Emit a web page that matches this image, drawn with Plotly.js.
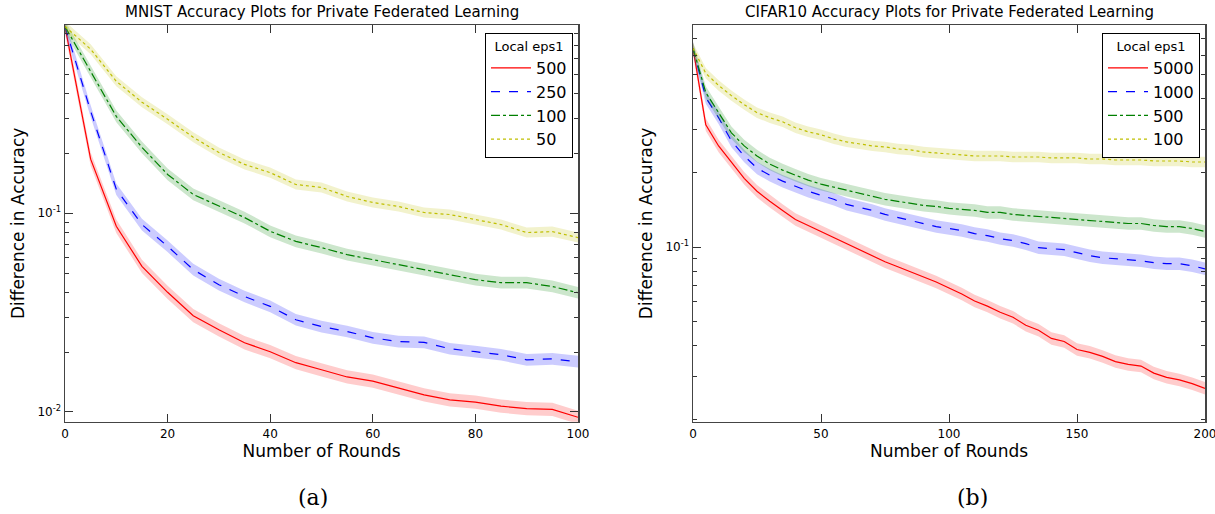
<!DOCTYPE html>
<html>
<head>
<meta charset="utf-8">
<script src="https://cdn.plot.ly/plotly-3.0.1.min.js"></script>
<style>html,body{margin:0;padding:0;background:#fff;}#chart{width:1215px;height:514px;}</style>
</head>
<body>
<div id="chart"></div>
<script>
// ---------- data ----------
const mnistRounds = [0,5,10,15,20,25,30,35,40,45,50,55,60,65,70,75,80,85,90,95,100];
const mnistEps500 = [0.87,0.187,0.086,0.054,0.040,0.0305,0.0259,0.0223,0.0201,0.0177,0.0163,0.0150,0.0143,0.0132,0.0122,0.0115,0.0112,0.0107,0.0104,0.0103,0.0094];
const mnistEps250 = [0.87,0.326,0.132,0.0877,0.0682,0.052,0.0437,0.0381,0.034,0.0291,0.0269,0.0254,0.0236,0.0226,0.0224,0.0208,0.0201,0.0194,0.0183,0.0185,0.0179];
const mnistEps100 = [0.87,0.518,0.307,0.2145,0.1567,0.1243,0.1085,0.0951,0.0811,0.0722,0.0671,0.0619,0.0584,0.0551,0.052,0.0491,0.0463,0.0447,0.0447,0.0428,0.0398];
const mnistEps50  = [0.87,0.669,0.461,0.362,0.297,0.241,0.202,0.176,0.160,0.1395,0.1348,0.1214,0.1132,0.1081,0.1008,0.0985,0.0929,0.0877,0.0799,0.0808,0.0754];

const cifarRounds = [0,5,10,15,20,25,30,35,40,45,50,55,60,65,70,75,80,85,90,95,100,105,110,115,120,125,130,135,140,145,150,155,160,165,170,175,180,185,190,195,200];
const cifarEps5000 = [0.64,0.313,0.257,0.221,0.190,0.1685,0.1534,0.1409,0.1295,0.1224,0.1157,0.1093,0.1033,0.0977,0.0923,0.0873,0.0833,0.0794,0.0758,0.0723,0.0683,0.0646,0.0605,0.0577,0.0545,0.052,0.0483,0.0461,0.0427,0.0415,0.0385,0.0375,0.0361,0.0344,0.0335,0.033,0.0309,0.0297,0.029,0.028,0.0268];
const cifarEps1000 = [0.64,0.404,0.3345,0.2695,0.2341,0.2091,0.1958,0.1851,0.1766,0.1685,0.1623,0.1563,0.1491,0.145,0.1409,0.1357,0.132,0.1283,0.1247,0.1212,0.119,0.1168,0.1135,0.1114,0.1083,0.1063,0.1033,0.0995,0.0986,0.0977,0.095,0.0923,0.0906,0.0898,0.089,0.0881,0.0865,0.0857,0.0857,0.0841,0.0817];
const cifarEps500  = [0.64,0.423,0.3507,0.2906,0.2572,0.2341,0.2171,0.2052,0.1958,0.1869,0.18,0.175,0.1701,0.1653,0.1607,0.1563,0.1534,0.1505,0.1477,0.1463,0.1436,0.1422,0.1409,0.1383,0.1383,0.1357,0.1345,0.1332,0.132,0.1307,0.1295,0.1283,0.1271,0.1259,0.1247,0.1247,0.1224,0.1212,0.1212,0.119,0.1157];
const cifarEps100  = [0.64,0.506,0.452,0.411,0.378,0.3507,0.3345,0.322,0.3045,0.2933,0.2852,0.2747,0.267,0.262,0.2572,0.2548,0.25,0.2477,0.243,0.2408,0.2386,0.2363,0.2341,0.2341,0.2341,0.2319,0.2319,0.2319,0.2298,0.2298,0.2298,0.2276,0.2276,0.2255,0.2255,0.2255,0.2234,0.2234,0.2234,0.2213,0.2213];

const mnistLabels = ['500','250','100','50'];
const cifarLabels = ['5000','1000','500','100'];
// multiplicative half-width of the shaded spread band
const mnistBand = [1.08,1.07,1.07,1.06];
const cifarBand = [1.06,1.06,1.06,1.05];

// ---------- styles ----------
const lineColors = ['#ff0000','#0000ff','#008000','#bfbf00'];
const bandColors = ['rgba(255,0,0,0.2)','rgba(0,0,255,0.2)','rgba(0,128,0,0.2)','rgba(191,191,0,0.2)'];
const dashes = ['solid','dash','dashdot','dot'];
const FONT = 'DejaVu Sans, Verdana, sans-serif';

function addSeries(traces, x, y, ratio, i, label, xa, ya, legendName) {
  const lo = y.map(v => v / ratio);
  const hi = y.map(v => v * ratio);
  traces.push({x:x, y:lo, xaxis:xa, yaxis:ya, mode:'lines', line:{width:0, color:bandColors[i]}, hoverinfo:'skip', showlegend:false});
  traces.push({x:x, y:hi, xaxis:xa, yaxis:ya, mode:'lines', line:{width:0, color:bandColors[i]}, fill:'tonexty', fillcolor:bandColors[i], hoverinfo:'skip', showlegend:false});
  traces.push({x:x, y:y, xaxis:xa, yaxis:ya, mode:'lines', name:label, legend:legendName,
    line:{color:lineColors[i], width:1.2, dash:dashes[i]}});
}

const traces = [];
const mnistSeries = [mnistEps500, mnistEps250, mnistEps100, mnistEps50];
const cifarSeries = [cifarEps5000, cifarEps1000, cifarEps500, cifarEps100];
mnistSeries.forEach((s,i) => addSeries(traces, mnistRounds, s, mnistBand[i], i, mnistLabels[i], 'x', 'y', 'legend'));
cifarSeries.forEach((s,i) => addSeries(traces, cifarRounds, s, cifarBand[i], i, cifarLabels[i], 'x2', 'y2', 'legend2'));

const minorVals = [0.02,0.03,0.04,0.05,0.06,0.07,0.08,0.09,0.2,0.3,0.4,0.5,0.6,0.7,0.8,0.9, 0.002,0.003,0.004,0.005,0.006,0.007,0.008,0.009];

function xAxis(domain, range, tickvals) {
  return {domain:domain, range:range, tickmode:'array', tickvals:tickvals,
    ticks:'inside', ticklen:8, tickwidth:1, tickcolor:'#333', mirror:'allticks',
    showline:true, linecolor:'#444', linewidth:1.5, showgrid:false, zeroline:false,
    ticklabeloverflow:'allow',
    tickfont:{family:FONT, size:12, color:'#000'},
    title:{text:'Number of Rounds', font:{family:FONT, size:17, color:'#000'}, standoff:4}};
}
function yAxis(domain, range, tickvals, ticktext, anchor) {
  return {type:'log', domain:domain, range:range, anchor:anchor, tickmode:'array', tickvals:tickvals, ticktext:ticktext,
    ticks:'inside', ticklen:8, tickwidth:1, tickcolor:'#333', mirror:'allticks',
    minor:{tickmode:'array', tickvals:minorVals, ticks:'inside', ticklen:4, tickcolor:'#333', showgrid:false},
    showline:true, linecolor:'#444', linewidth:1.5, showgrid:false, zeroline:false,
    tickfont:{family:FONT, size:12, color:'#000'},
    title:{text:'Difference in Accuracy', font:{family:FONT, size:17, color:'#000'}, standoff:8}};
}

const yDom = [1-421.7/514, 1-25/514];
const legendCommon = {
  bgcolor:'#fff', bordercolor:'#000', borderwidth:1, xanchor:'right', yanchor:'top',
  font:{family:FONT, size:16, color:'#000'}, tracegroupgap:0, itemwidth:40, traceorder:'normal',
  title:{text:'Local eps1', side:'top center', font:{family:FONT, size:13, color:'#000'}}
};

const layout = {
  width:1215, height:514, margin:{l:0, r:0, t:0, b:0},
  paper_bgcolor:'#fff', plot_bgcolor:'#fff', showlegend:true,
  xaxis: xAxis([65/1215, 578/1215], [0,100], [0,20,40,60,80,100]),
  yaxis: yAxis(yDom, [-2.049, -0.053], [0.01, 0.1], ['10<sup>-2</sup>','10<sup>-1</sup>'], 'x'),
  xaxis2: Object.assign(xAxis([693/1215, 1205/1215], [0,200], [0,50,100,150,200]), {anchor:'y2'}),
  yaxis2: yAxis(yDom, [-1.707, -0.1], [0.1], ['10<sup>-1</sup>'], 'x2'),
  legend: Object.assign({}, legendCommon, {x:573/1215, y:1-33/514}),
  legend2: Object.assign({}, legendCommon, {x:1200/1215, y:1-33/514}),
  annotations:[
    {text:'MNIST Accuracy Plots for Private Federated Learning', xref:'paper', yref:'paper', x:(65+578)/2/1215, y:1-12/514, xanchor:'center', yanchor:'middle', showarrow:false, font:{family:FONT, size:15, color:'#000'}},
    {text:'CIFAR10 Accuracy Plots for Private Federated Learning', xref:'paper', yref:'paper', x:(693+1205)/2/1215, y:1-12/514, xanchor:'center', yanchor:'middle', showarrow:false, font:{family:FONT, size:15, color:'#000'}},
    {text:'(a)', xref:'paper', yref:'paper', x:313/1215, y:1-497/514, xanchor:'center', yanchor:'middle', showarrow:false, font:{family:'DejaVu Serif, Liberation Serif, serif', size:22, color:'#000'}},
    {text:'(b)', xref:'paper', yref:'paper', x:972/1215, y:1-497/514, xanchor:'center', yanchor:'middle', showarrow:false, font:{family:'DejaVu Serif, Liberation Serif, serif', size:22, color:'#000'}}
  ]
};

Plotly.newPlot('chart', traces, layout, {staticPlot:true, displayModeBar:false});
</script>
</body>
</html>
